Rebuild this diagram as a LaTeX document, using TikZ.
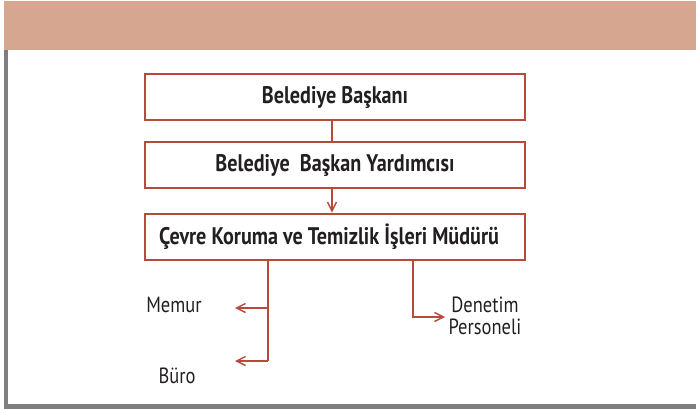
\documentclass[tikz,border=0pt]{standalone}
\usepackage{fontspec}
\setmainfont{PT Sans}[FakeStretch=0.84]
\usetikzlibrary{arrows.meta,positioning}
\definecolor{bandrose}{HTML}{D7A690}
\definecolor{boxred}{HTML}{B84A3B}
\definecolor{framegray}{HTML}{7F7F7F}
\definecolor{inkdark}{HTML}{231F20}
\tikzset{
  unitbox/.style={draw=boxred, line width=2.8pt, minimum width=380pt, minimum height=46pt,
    font=\fontsize{24}{26}\selectfont\bfseries, text=inkdark, inner sep=0pt},
  staff/.style={font=\fontsize{22}{24}\selectfont, text=inkdark, align=center, inner sep=0pt},
  link/.style={draw=boxred, line width=1.4pt},
  linkarrow/.style={link, -{Straight Barb[length=9pt,width=9pt,line width=1.4pt]}}
}
\begin{document}
\begin{tikzpicture}[x=1pt,y=-1pt]
  \useasboundingbox (0,0) rectangle (696,409);
  % band and frame
  \fill[bandrose] (4,1) rectangle (696,50);
  \fill[framegray] (4,50) rectangle (8,409);
  \fill[framegray] (4,404) rectangle (696,409);
  % boxes
  \node[unitbox] (baskan) at (335,97) {Belediye Başkanı};
  \node[unitbox] (yardimci) at (335,165) {Belediye\ \ Başkan Yardımcısı};
  \node[unitbox] (mudur) at (335,237) {\hspace*{-12pt}Çevre Koruma ve Temizlik İşleri Müdürü};
  \draw[link] (baskan.south -| 332,0) -- (yardimci.north -| 332,0);
  \draw[linkarrow] (yardimci.south -| 332,0) -- (mudur.north -| 332,0);
  % staff
  \node[staff] (memur) at (174,305) {Memur};
  \node[staff] (buro) at (177,376) {Büro};
  \node[staff] (denetim) at (485,316) {Denetim\\[-2pt]Personeli};
  \coordinate (solkol) at (268,361);
  \coordinate (sagkol) at (413,317);
  \draw[link] (mudur.south -| solkol) -- (solkol);
  \draw[linkarrow] (268,308) -- (235,308);
  \draw[linkarrow] (solkol) -- (235,361);
  \draw[linkarrow] (mudur.south -| sagkol) -- (sagkol) -- (445,317);
\end{tikzpicture}
\end{document}
